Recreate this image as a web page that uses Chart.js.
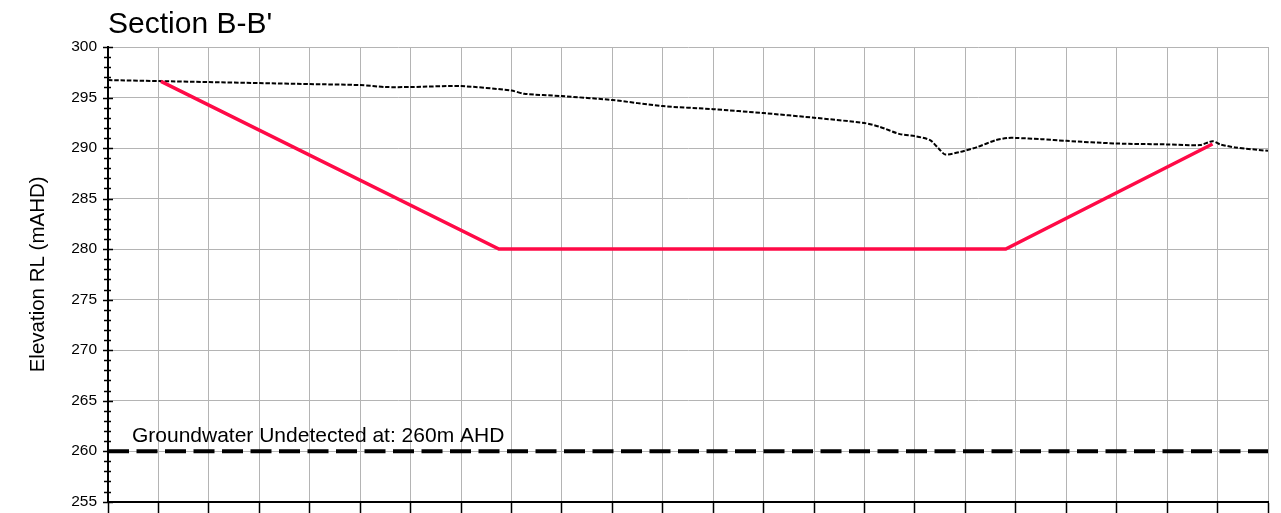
<!DOCTYPE html>
<html>
<head>
<meta charset="utf-8">
<script src="https://cdn.jsdelivr.net/npm/chart.js@4.4.1/dist/chart.umd.min.js"></script>
<style>
  html, body { margin: 0; padding: 0; background: #fff; overflow: hidden; }
  #wrap { position: relative; width: 1281px; height: 522px; }
</style>
</head>
<body>
<div id="wrap"><canvas id="section"></canvas></div>
<script>
// Chainage along the section (m) and natural surface level (mAHD)
const surfaceChainage = [0, 20, 40, 60, 80, 100, 110, 120, 140, 160, 165, 180, 200, 220, 240, 260, 280, 300, 306, 314, 320, 326, 330, 332, 338, 345, 352, 357, 360, 370, 380, 400, 420, 433, 438, 441, 447, 460];
const surfaceLevel = [296.73, 296.63, 296.53, 296.43, 296.33, 296.23, 296.04, 296.04, 296.13, 295.69, 295.37, 295.14, 294.75, 294.15, 293.85, 293.46, 293.0, 292.47, 292.1, 291.38, 291.18, 290.78, 289.79, 289.36, 289.62, 290.12, 290.78, 291.0, 291.0, 290.88, 290.71, 290.45, 290.36, 290.29, 290.68, 290.36, 290.06, 289.72];

// Design pit profile
const pitChainage = [21, 155, 356, 438];
const pitLevel = [296.6, 280, 280, 290.4];

// Groundwater reference
const groundwaterChainage = [0, 460];
const groundwaterLevel = [260, 260];
const groundwaterText = 'Groundwater Undetected at: 260m AHD';
const groundwaterTextChainage = 9.5;

// Axis ranges
const xMin = 0, xMax = 460, xStep = 20;
const yMin = 255, yMax = 300, yMajor = 5;

const toPoints = (xs, ys) => xs.map((x, i) => ({ x, y: ys[i] }));

Chart.defaults.font.family = '"Liberation Sans", Arial, sans-serif';
Chart.defaults.color = '#000';

// Tick marks crossing the vertical axis, plus the groundwater annotation
const sectionDecor = {
  id: 'sectionDecor',
  afterDraw(chart) {
    const { ctx, chartArea, scales } = chart;
    const ys = scales.y, xs = scales.x;
    ctx.save();
    ctx.strokeStyle = '#000';
    ctx.lineWidth = 1.5;
    ys.ticks.forEach(t => {
      const py = Math.round(ys.getPixelForValue(t.value)) + 0.5;
      const major = t.value % yMajor === 0;
      ctx.beginPath();
      ctx.moveTo(chartArea.left - (major ? 5 : 4), py);
      ctx.lineTo(chartArea.left + (major ? 5 : 3), py);
      ctx.stroke();
    });
    ctx.fillStyle = '#000';
    ctx.font = '21px "Liberation Sans", Arial, sans-serif';
    ctx.textAlign = 'left';
    ctx.textBaseline = 'alphabetic';
    ctx.fillText(groundwaterText,
      xs.getPixelForValue(groundwaterTextChainage),
      ys.getPixelForValue(groundwaterLevel[0]) - 9);
    ctx.restore();
  }
};

new Chart(document.getElementById('section'), {
  type: 'line',
  data: {
    datasets: [
      {
        label: 'Natural surface',
        data: toPoints(surfaceChainage, surfaceLevel),
        borderColor: '#000',
        borderWidth: 2,
        borderDash: [4.5, 1.8],
        pointRadius: 0,
        tension: 0.25,
        order: 2
      },
      {
        label: 'Pit design',
        data: toPoints(pitChainage, pitLevel),
        borderColor: '#ff0a47',
        borderWidth: 3.5,
        pointRadius: 0,
        tension: 0,
        order: 1
      },
      {
        label: 'Groundwater',
        data: toPoints(groundwaterChainage, groundwaterLevel),
        borderColor: '#000',
        borderWidth: 4,
        borderDash: [21, 7.5],
        pointRadius: 0,
        tension: 0,
        order: 3
      }
    ]
  },
  options: {
    responsive: true,
    maintainAspectRatio: false,
    animation: false,
    layout: { padding: { left: 0, right: 13, top: 0, bottom: 0 } },
    plugins: {
      legend: { display: false },
      tooltip: { enabled: false },
      title: {
        display: true,
        text: "Section B-B'",
        align: 'start',
        fullSize: false,
        color: '#000',
        font: { size: 30, weight: 'normal' },
        padding: { top: 6.5, bottom: 4.5 }
      }
    },
    scales: {
      x: {
        type: 'linear',
        min: xMin,
        max: xMax,
        ticks: { stepSize: xStep, display: false },
        grid: {
          color: '#b4b4b4',
          lineWidth: 1,
          drawTicks: true,
          tickLength: 12,
          tickColor: '#000',
          tickWidth: 1.5
        },
        border: { color: '#000', width: 2 }
      },
      y: {
        type: 'linear',
        min: yMin,
        max: yMax,
        afterFit(scale) { scale.width = 108; },
        ticks: {
          stepSize: 1,
          autoSkip: false,
          padding: 11,
          font: { size: 15.5 },
          color: '#000',
          callback: v => (v % yMajor === 0 ? String(v) : '')
        },
        grid: {
          drawTicks: false,
          color: c => (c.tick && c.tick.value % yMajor === 0 ? '#b4b4b4' : 'rgba(0,0,0,0)'),
          lineWidth: 1
        },
        border: { color: '#000', width: 2 },
        title: {
          display: true,
          text: 'Elevation RL (mAHD)',
          color: '#000',
          font: { size: 20.5 },
          padding: { top: 26, bottom: 0 }
        }
      }
    }
  },
  plugins: [sectionDecor]
});
</script>
</body>
</html>
